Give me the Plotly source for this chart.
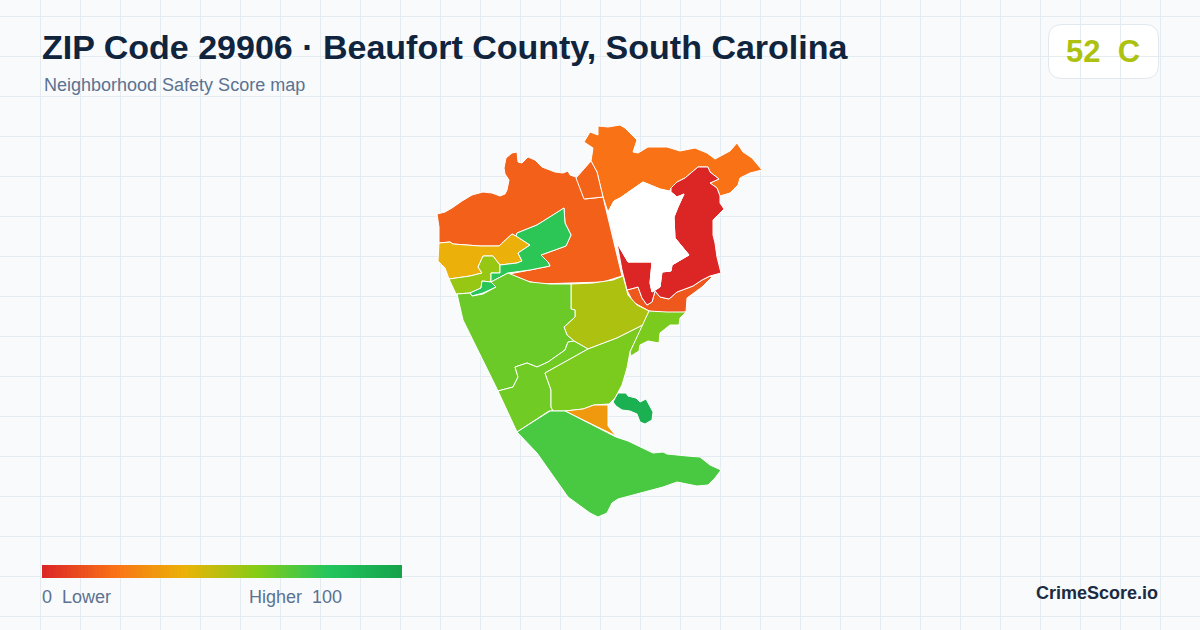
import plotly.graph_objects as go

# ---------- data ----------
TITLE = "ZIP Code 29906 · Beaufort County, South Carolina"
SUBTITLE = "Neighborhood Safety Score map"
BADGE = "52\u00a0\u00a0C"
LEGEND_LOW = "0\u00a0\u00a0Lower"
LEGEND_HIGH = "Higher\u00a0\u00a0100"
BRAND = "CrimeScore.io"

SCALE_STOPS = [0, 20, 40, 60, 80, 100]
SCALE_COLORS = ["#dc2626", "#f97316", "#eab308", "#84cc16", "#22c55e", "#16a34a"]
GRADIENT_VALUES = list(range(0, 101))

northwest = [(437,214),(445,212),(452,208),(462,201),(472,195),(483,192),(492,193),(500,196),(505,194),(507,190),(509,180),(505,174),(504,168),(506,158),(512,153),(517,152),(518,162),(522,163),(528,157),(535,160),(542,167),(555,172),(563,173),(568,171),(570,175),(576,177),(585,199),(603,197),(622,276),(603,282),(570,283),(550,284),(540,284),(527,281),(509,274),(530,270),(550,266),(548,262),(541,255),(566,246),(571,235),(565,223),(564,208),(553,215),(537,225),(517,233),(516,236),(512,234),(499,246),(480,246),(453,244),(450,242),(439,243),(439,227)]
middle_sliver = [(591,161),(576,178),(584,199),(603,197),(597,172)]
north = [(584,142),(590,132),(598,135),(598,126),(608,127),(620,125),(625,128),(630,133),(637,140),(633,152),(638,153),(648,147),(667,147),(680,151),(695,148),(707,153),(715,159),(730,151),(737,143),(743,152),(752,158),(762,170),(750,173),(740,178),(738,185),(730,193),(720,196),(717,188),(710,183),(719,179),(710,172),(708,167),(698,167),(685,178),(677,182),(671,188),(670,191),(660,189),(643,182),(620,198),(614,201),(608,212),(603,197),(597,172),(591,161),(593,148)]
no_data = [(608,212),(614,201),(620,198),(643,182),(660,189),(671,192),(677,197),(684,194),(678,207),(674,217),(675,238),(689,255),(677,262),(672,265),(671,271),(662,272),(660,287),(652,292),(650,283),(652,262),(628,262),(617,243),(611,223)]
east_red = [(671,188),(677,182),(685,178),(698,167),(708,167),(710,172),(719,179),(710,183),(717,188),(720,196),(720,203),(724,209),(713,220),(713,235),(715,243),(717,257),(721,273),(710,276),(702,280),(693,286),(677,292),(669,299),(660,297),(655,291),(652,302),(647,305),(642,298),(638,287),(627,290),(622,270),(617,243),(628,262),(652,262),(650,283),(652,292),(660,287),(662,272),(671,271),(672,265),(677,262),(689,255),(675,238),(674,217),(678,207),(684,194),(677,197),(671,192)]
red_speck = [(612,229),(615,226),(618,227),(617,230),(613,231)]
southeast_strip = [(627,290),(638,287),(642,298),(647,305),(652,302),(655,291),(660,297),(669,299),(677,292),(693,286),(702,280),(710,276),(712,277),(702,287),(687,298),(686,312),(667,314),(649,311),(633,302)]
central_lime = [(571,284),(593,283),(613,280),(623,276),(628,295),(637,305),(649,311),(643,325),(617,338),(588,349),(574,341),(567,335),(564,327),(575,317),(575,310),(571,309)]
coast_green = [(649,311),(667,312),(686,312),(680,318),(679,325),(670,325),(660,333),(659,343),(648,341),(640,345),(639,351),(631,356),(630,352),(643,325)]
central_green = [(588,349),(617,338),(643,325),(630,352),(627,368),(622,385),(615,398),(609,404),(594,405),(583,409),(565,411),(553,411),(551,407),(551,390),(545,373),(563,363),(577,355)]
west_green = [(457,294),(470,293),(472,296),(483,294),(496,287),(491,282),(508,273),(530,282),(550,284),(571,284),(571,309),(575,310),(575,317),(564,327),(567,335),(574,341),(568,342),(565,350),(558,355),(548,362),(537,367),(527,363),(515,367),(518,377),(513,387),(498,391),(463,320)]
southwest_green = [(498,391),(513,387),(518,377),(515,367),(527,363),(537,367),(548,362),(558,355),(565,350),(568,342),(574,341),(588,349),(577,355),(563,363),(545,373),(551,390),(551,407),(553,411),(549,411),(517,432)]
orange_wedge = [(565,411),(583,409),(594,405),(608,405),(608,426),(616,436)]
south_island = [(517,432),(550,411),(565,411),(616,437),(628,441),(640,447),(653,453),(663,452),(667,454),(687,456),(700,457),(710,465),(721,470),(715,478),(708,485),(697,486),(677,482),(663,487),(640,493),(618,499),(612,503),(607,513),(598,517),(590,513),(568,497),(555,478),(537,453)]
sea_island = [(613,402),(618,393),(626,393),(628,396),(636,398),(640,402),(646,399),(649,405),(653,412),(652,420),(645,424),(640,422),(637,414),(630,411),(622,410),(616,406)]
west_yellow = [(439,243),(450,242),(453,244),(480,246),(499,246),(512,234),(516,236),(530,245),(518,253),(522,261),(517,263),(500,265),(496,260),(493,256),(483,256),(478,267),(482,273),(470,276),(449,279),(445,268),(438,261)]
west_lime = [(449,279),(470,276),(482,273),(478,267),(483,256),(493,256),(496,260),(500,265),(500,273),(491,273),(491,282),(482,281),(481,288),(470,293),(456,294)]
green_strip = [(564,208),(553,215),(537,225),(517,233),(516,236),(530,245),(518,253),(522,261),(517,263),(500,265),(500,273),(491,273),(491,282),(508,273),(530,270),(550,266),(548,262),(541,255),(566,246),(571,235),(565,223)]
green_small = [(482,281),(491,282),(496,287),(483,293),(472,296),(470,293),(481,288)]

REGIONS = [north, northwest, middle_sliver, southeast_strip, east_red, red_speck, central_lime,
           west_yellow, west_lime, green_strip, green_small, west_green, southwest_green,
           central_green, coast_green, orange_wedge, south_island, sea_island]
SCORES = [20, 15, 16, 13, 0, 0, 52, 39, 56, 78, 79, 65, 64, 62, 62, 32, 72, 92]


def colour_for(score):
    def rgb(h):
        return [int(h[i:i + 2], 16) for i in (1, 3, 5)]
    for i in range(len(SCALE_STOPS) - 1):
        lo, hi = SCALE_STOPS[i], SCALE_STOPS[i + 1]
        if lo <= score <= hi:
            t = (score - lo) / (hi - lo)
            a, b = rgb(SCALE_COLORS[i]), rgb(SCALE_COLORS[i + 1])
            return "rgb(%d,%d,%d)" % tuple(round(p + (q - p) * t) for p, q in zip(a, b))
    return SCALE_COLORS[-1]


def closed(poly):
    pts = poly + [poly[0]]
    return [p[0] for p in pts], [p[1] for p in pts]


fig = go.Figure()

for poly, score in zip(REGIONS, SCORES):
    xs, ys = closed(poly)
    fig.add_trace(go.Scatter(x=xs, y=ys, mode="lines", fill="toself",
                             fillcolor=colour_for(score),
                             line=dict(color="#ffffff", width=1),
                             hoverinfo="skip", showlegend=False))

xs, ys = closed(no_data)
fig.add_trace(go.Scatter(x=xs, y=ys, mode="lines", fill="toself", fillcolor="#ffffff",
                         line=dict(color="#ffffff", width=1), hoverinfo="skip", showlegend=False))

fig.add_trace(go.Heatmap(
    z=[GRADIENT_VALUES], x0=42 + 360 / 202, dx=360 / 101, y0=571.5, dy=13, zmin=0, zmax=100,
    colorscale=[[s / 100, c] for s, c in zip(SCALE_STOPS, SCALE_COLORS)],
    showscale=False, hoverinfo="skip", zsmooth=False))

fig.update_layout(
    width=1200, height=630, margin=dict(l=0, r=0, t=0, b=0),
    paper_bgcolor="#f8fafc", plot_bgcolor="#f8fafc",
    showlegend=False,
    xaxis=dict(range=[0, 1200], showgrid=True, tick0=0, dtick=40, gridcolor="#e5ecf1", gridwidth=1,
               zeroline=False, showticklabels=False, ticks="", fixedrange=True),
    yaxis=dict(range=[630, 0], showgrid=True, tick0=16, dtick=40, gridcolor="#e5ecf1", gridwidth=1,
               zeroline=False, showticklabels=False, ticks="", fixedrange=True),
    shapes=[
        dict(type="rect", layer="below", x0=-1, x1=1201, y0=-1, y1=95.5,
             fillcolor="#f8fafc", line=dict(width=0)),
        dict(type="path", layer="below",
             path="M 1062 24.5 H 1145 Q 1158.5 24.5 1158.5 38 V 65 Q 1158.5 78.5 1145 78.5 H 1062 Q 1048.5 78.5 1048.5 65 V 38 Q 1048.5 24.5 1062 24.5 Z",
             fillcolor="#ffffff", line=dict(color="#e2e8f0", width=1)),
    ],
)


def label(x, y, text, size, colour, bold=False, anchor="left"):
    fig.add_annotation(x=x, y=y, text=("<b>%s</b>" % text) if bold else text, showarrow=False,
                       xanchor=anchor, yanchor="middle", align=anchor, borderpad=0, borderwidth=0,
                       font=dict(family="Liberation Sans", size=size, color=colour))


label(42, 47, TITLE, 34, "#10243e", bold=True)
label(44, 85, SUBTITLE, 18, "#5b7290")
label(1066, 51, BADGE, 31, colour_for(52), bold=True)
label(42, 597, LEGEND_LOW, 18, "#5b7290")
label(249, 597, LEGEND_HIGH, 18, "#5b7290")
label(1158, 593, BRAND, 18, "#1a2b42", bold=True, anchor="right")

fig.write_html("out.html", config={"displayModeBar": False},
               post_script="document.body.style.margin='0';document.documentElement.style.overflow='hidden';")
